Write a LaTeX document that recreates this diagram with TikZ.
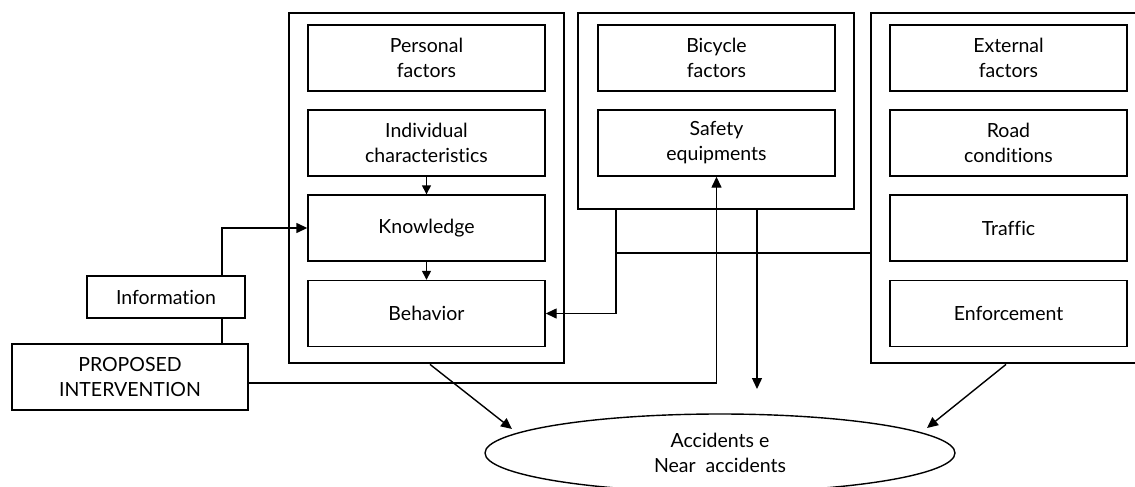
\documentclass[tikz,border=0pt]{standalone}
\usepackage{fontspec}
\setmainfont{Lato}[Ligatures={NoCommon}]
\usetikzlibrary{arrows.meta,calc,shapes.geometric}
\begin{document}
\begin{tikzpicture}[x=1pt,y=-1pt,
  txt/.style={align=center,font=\fontsize{19.5}{25}\selectfont},
  inner/.style={draw,line width=1.4pt,minimum width=237pt,minimum height=66pt,inner sep=0pt,txt},
  outer/.style={draw,line width=2.8pt,inner sep=0pt},
  conn/.style={line width=1.4pt},
  arr/.style={conn,-{Triangle[length=11pt,width=10pt]}},
  sarr/.style={conn,-{Triangle[length=9pt,width=9pt]}}]
\useasboundingbox (0,0) rectangle (1135,487);
% outer frames
\node[outer,minimum width=275pt,minimum height=350pt] (left) at (426.5,188) {};
\node[outer,minimum width=276pt,minimum height=196pt] (mid) at (716,111) {};
\node[outer,minimum width=279pt,minimum height=350pt] (right) at (1010.5,188) {};
% left column
\node[inner] (pers) at (426.5,58) {Personal\\factors};
\node[inner] (indiv) at (426.5,143) {Individual\\characteristics};
\node[inner] (know) at (426.5,228) {Knowledge};
\node[inner] (beh) at (426.5,313.5) {Behavior};
% middle column
\node[inner] (bike) at (716.5,58) {Bicycle\\factors};
\node[inner] (safe) at (716.5,143) {Safety\\equipments};
% right column
\node[inner] (ext) at (1008.5,58) {External\\factors};
\node[inner] (road) at (1008.5,143) {Road\\conditions};
\node[inner] (traf) at (1008.5,228) {Traffic};
\node[inner] (enf) at (1008.5,313.5) {Enforcement};
% left side
\node[draw,line width=1.4pt,minimum width=158pt,minimum height=42pt,inner sep=0pt,txt] (info) at (166,297) {Information};
\node[draw,line width=2.8pt,minimum width=236pt,minimum height=66pt,inner sep=0pt,txt] (prop) at (130,377) {PROPOSED\\INTERVENTION};
% ellipse
\node[draw,ellipse,line width=1.4pt,minimum width=470pt,minimum height=78pt,inner sep=0pt,txt] (acc) at (720,453) {Accidents e\\Near~ accidents};
% helper coordinates
\coordinate (c1) at (222,0);
\coordinate (c2) at (717,383);
\coordinate (c3) at (616,0);
\coordinate (c4) at (616,253);
\coordinate (c5) at (757,389);
\coordinate (c6) at (430,0);
\coordinate (t6) at (512,429);
\coordinate (c7) at (1006,0);
\coordinate (t7) at (927,428);
% connectors
\draw[sarr] (indiv.south) -- (know.north);
\draw[sarr] (know.south) -- (beh.north);
\draw[arr] (info.north -| c1) |- (know.west);
\draw[conn] (info.south -| c1) -- (prop.north -| c1);
\draw[arr] (prop.east |- c2) -| (safe.south);
\draw[arr] (mid.south -| c3) |- (beh.east);
\draw[conn] (c4) -- (c4 -| right.west);
\draw[arr] (mid.south -| c5) -- (c5);
\draw[arr] (left.south -| c6) -- (t6);
\draw[arr] (right.south -| c7) -- (t7);
\end{tikzpicture}
\end{document}
